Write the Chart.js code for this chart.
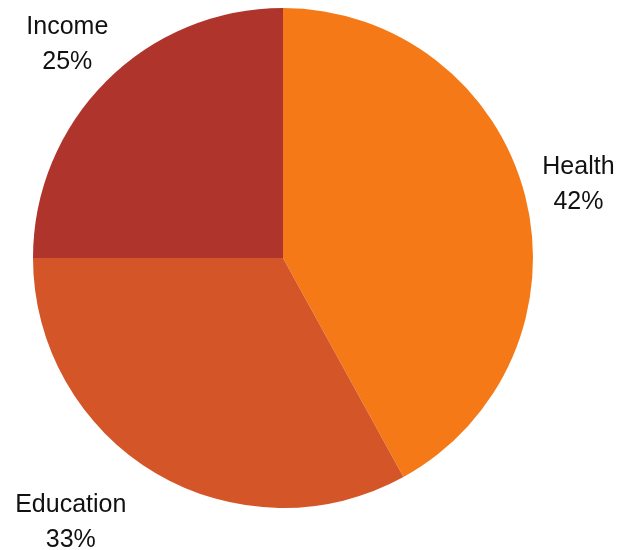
<!DOCTYPE html>
<html>
<head>
<meta charset="utf-8">
<script src="https://cdn.jsdelivr.net/npm/chart.js@4"></script>
<style>
  html, body { margin: 0; padding: 0; background: #fff; }
  #wrap { width: 628px; height: 550px; }
</style>
</head>
<body>
<div id="wrap"><canvas id="pie"></canvas></div>
<script>
const categories = ["Health", "Education", "Income"];
const shares = [42, 33, 25];
const colors = ["#F57A17", "#D45528", "#AF352C"];

// etiquetas fuera del círculo, nombre + porcentaje
const outsideLabels = {
    id: "outsideLabels",
    afterDatasetsDraw(chart, args, opts) {
        const ctx = chart.ctx;
        const meta = chart.getDatasetMeta(0);
        ctx.save();
        ctx.font = "25px 'Liberation Sans', Arial, sans-serif";
        ctx.fillStyle = "#111";
        ctx.textAlign = "center";
        ctx.textBaseline = "middle";
        meta.data.forEach((arc, i) => {
            const p = arc.getProps(["x", "y", "startAngle", "endAngle", "outerRadius"], true);
            const mid = (p.startAngle + p.endAngle) / 2;
            const r = p.outerRadius * opts.factor;
            const shift = opts.shiftX[i] || 0;
            const x = p.x + Math.cos(mid) * r + shift;
            const y = p.y + Math.sin(mid) * r;
            ctx.fillText(categories[i], x, y - 15);
            ctx.fillText(shares[i] + "%", x, y + 20);
        });
        ctx.restore();
    }
};

new Chart(document.getElementById("pie"), {
    type: "pie",
    data: {
        labels: categories,
        datasets: [
            {
                data: shares,
                backgroundColor: colors,
                borderWidth: 0
            }
        ]
    },
    options: {
        responsive: true,
        maintainAspectRatio: false,
        animation: false,
        layout: { padding: { left: 33, right: 95, top: 8, bottom: 42 } },
        plugins: {
            legend: { display: false },
            tooltip: { enabled: false },
            outsideLabels: { factor: 1.22, shiftX: [0, -57, 0] }
        }
    },
    plugins: [outsideLabels]
});
</script>
</body>
</html>
